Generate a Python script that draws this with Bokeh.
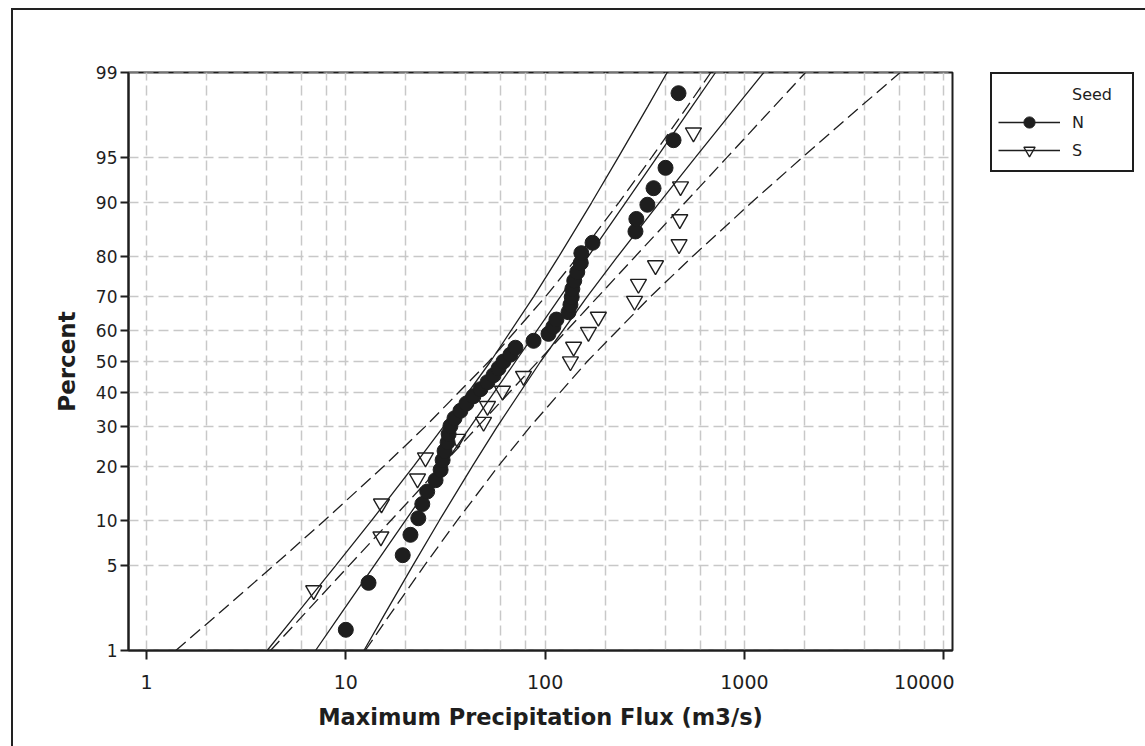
from statistics import NormalDist
from bokeh.plotting import figure
from bokeh.layouts import row
from bokeh.models import (Range1d, FixedTicker, CustomJSTickFormatter,
                          NumeralTickFormatter, Legend, LegendItem)
from bokeh.embed import file_html
from bokeh.resources import INLINE

# ---------------- data ----------------
n_pct = [1.54, 3.74, 5.95, 8.15, 10.35, 12.56, 14.76, 16.96, 19.16, 21.37,
         23.57, 25.77, 27.97, 30.18, 32.38, 34.58, 36.78, 38.99, 41.19, 43.39,
         45.59, 47.80, 50.00, 52.20, 54.41, 56.61, 58.81, 61.01, 63.22, 65.42,
         67.62, 69.82, 72.03, 74.23, 76.43, 78.63, 80.84, 83.04, 85.24, 87.44,
         89.65, 91.85, 94.05, 96.26, 98.46]
n_flux = [10.0, 13.0, 19.3, 21.1, 23.1, 24.2, 25.6, 28.2, 29.9, 30.6,
          31.3, 32.4, 32.8, 33.5, 35.1, 37.6, 40.3, 43.7, 47.4, 51.4,
          55.1, 58.4, 61.8, 67.0, 71.0, 87.5, 104, 110, 114, 131,
          134, 136, 137, 140, 145, 151, 152, 173, 284, 287,
          326, 350, 402, 441, 467]

s_pct = [3.27, 7.94, 12.62, 17.29, 21.96, 26.64, 31.31, 35.98, 40.65, 45.33,
         50.00, 54.67, 59.35, 64.02, 68.69, 73.36, 78.04, 82.71, 87.38, 92.06,
         96.73]
s_flux = [6.9, 15.0, 15.1, 22.9, 25.1, 36.4, 49.1, 51.4, 61.1, 77.9,
          134, 139, 165, 185, 281, 294, 358, 470, 474, 478, 555]

# fitted lines and 95% confidence bands, read at these percents
fit_pct = [1, 2, 5, 10, 20, 30, 50, 70, 80, 90, 95, 98, 99]
n_fit = [7.05, 9.23, 13.85, 19.89, 30.77, 42.2, 71.0, 119.6, 164.0, 253.8, 364.3, 546.4, 716.1]
n_ci_lo = [4.03, 5.53, 8.87, 13.45, 21.9, 30.9, 53.2, 87.8, 116.9, 171.5, 233.2, 327.6, 409.4]
n_ci_hi = [12.33, 15.41, 21.64, 29.42, 43.18, 57.5, 94.9, 163.0, 230.0, 375.4, 569.0, 911.6, 1252]
s_fit = [4.19, 6.02, 10.35, 16.78, 30.1, 45.9, 92.1, 184.9, 281.9, 505.8, 819.9, 1411, 2026]
s_ci_lo = [1.403, 2.209, 4.33, 7.79, 15.55, 25.02, 52.2, 100.8, 145.6, 234.9, 343.0, 518.2, 678.3]
s_ci_hi = [12.51, 16.38, 24.74, 36.14, 58.3, 84.2, 162.6, 339.1, 545.9, 1089, 1959, 3841, 6049]

y_tick_pct = [1, 5, 10, 20, 30, 40, 50, 60, 70, 80, 90, 95, 99]
x_ticks = [1, 10, 100, 1000, 10000]
x_grid = [1, 2, 4, 6, 8, 10, 20, 40, 60, 80, 100, 200, 400, 600, 800,
          1000, 2000, 4000, 6000, 8000, 10000]

series_labels = ["N", "S"]
legend_title = "Seed"
x_label = "Maximum Precipitation Flux (m3/s)"
y_label = "Percent"

# ---------------- normal-probability transform ----------------
_nd = NormalDist()
def probit(pcts):
    return [_nd.inv_cdf(p / 100.0) for p in pcts]

FONT = "DejaVu Sans"
INK = "#1e1e1e"
H = 736

p = figure(width=941, height=H, x_axis_type="log",
           x_range=Range1d(0.812, 11070),
           y_range=Range1d(probit([1])[0] - 1e-9, probit([99])[0] + 1e-9),
           output_backend="svg", toolbar_location=None,
           min_border_left=115, min_border_right=2,
           min_border_top=62, min_border_bottom=96,
           background_fill_color="white", border_fill_color="white")

p.outline_line_color = INK
p.outline_line_width = 2
p.outline_line_alpha = 1

# grids
p.xgrid.ticker = FixedTicker(ticks=x_grid)
p.ygrid.ticker = FixedTicker(ticks=probit(y_tick_pct))
for g in (p.xgrid, p.ygrid):
    g.grid_line_color = "#c8c8c8"
    g.grid_line_width = 1.5
    g.grid_line_dash = "10 5"

# axes
p.xaxis.ticker = FixedTicker(ticks=x_ticks)
p.xaxis.formatter = NumeralTickFormatter(format="0")
p.yaxis.ticker = FixedTicker(ticks=probit(y_tick_pct))
p.yaxis.formatter = CustomJSTickFormatter(code="""
    const x = Math.abs(tick) / Math.SQRT2;
    const t = 1 / (1 + 0.3275911 * x);
    const e = 1 - (((((1.061405429 * t - 1.453152027) * t) + 1.421413741) * t
               - 0.284496736) * t + 0.254829592) * t * Math.exp(-x * x);
    const erf = tick < 0 ? -e : e;
    return String(Math.round(50 * (1 + erf)));
""")
for ax in (p.xaxis, p.yaxis):
    ax.axis_line_color = INK
    ax.axis_line_width = 2
    ax.major_tick_line_color = INK
    ax.major_tick_line_width = 2
    ax.major_tick_in = 0
    ax.minor_tick_line_color = None
    ax.major_label_text_font = FONT
    ax.major_label_text_color = INK
    ax.axis_label_text_font = FONT
    ax.axis_label_text_font_style = "bold"
    ax.axis_label_text_color = INK

p.xaxis.major_tick_out = 9
p.xaxis.major_label_text_font_size = "19px"
p.xaxis.major_label_standoff = 15
p.xaxis.axis_label = x_label
p.xaxis.axis_label_text_font_size = "22.5px"
p.xaxis.axis_label_standoff = 12

p.yaxis.major_tick_out = 8
p.yaxis.major_label_text_font_size = "17px"
p.yaxis.major_label_standoff = 3
p.yaxis.axis_label = y_label
p.yaxis.axis_label_text_font_size = "23px"
p.yaxis.axis_label_standoff = 13

# fitted lines (N solid, S dashed)
for xs in (n_ci_lo, n_fit, n_ci_hi):
    p.line(xs, probit(fit_pct), line_color=INK, line_width=1.3)
for xs in (s_ci_lo, s_fit, s_ci_hi):
    p.line(xs, probit(fit_pct), line_color=INK, line_width=1.3, line_dash="13 6")

# points
n_style = dict(marker="circle", size=15, fill_color=INK, line_color=INK)
s_style = dict(marker="inverted_triangle", size=16, fill_color=None,
               line_color=INK, line_width=1.4)
p.scatter(n_flux, probit(n_pct), **n_style)
p.scatter(s_flux, probit(s_pct), **s_style)

# ---------------- legend panel (separate canvas to the right) ----------------
pl = figure(width=191, height=H, x_range=Range1d(0, 1), y_range=Range1d(0, 1),
            output_backend="svg", toolbar_location=None,
            x_axis_location=None, y_axis_location=None,
            min_border_left=36, min_border_right=4, min_border_top=62, min_border_bottom=4,
            background_fill_color="white", border_fill_color="white")
pl.outline_line_color = None
pl.xgrid.visible = False
pl.ygrid.visible = False
nan = float("nan")
leg_line = pl.line([nan], [nan], line_color=INK, line_width=1.4)
leg_n = pl.scatter([nan], [nan], **n_style)
leg_s = pl.scatter([nan], [nan], **s_style)

legend = Legend(items=[
    LegendItem(label=legend_title, renderers=[]),
    LegendItem(label=series_labels[0], renderers=[leg_line, leg_n]),
    LegendItem(label=series_labels[1], renderers=[leg_line, leg_s]),
], location="top_left")
legend.margin = 0
legend.glyph_width = 62
legend.glyph_height = 28
legend.spacing = 0
legend.padding = 6
legend.label_standoff = 12
legend.label_width = 54
legend.label_height = 20
legend.label_text_font = FONT
legend.label_text_font_size = "16px"
legend.label_text_color = INK
legend.border_line_color = INK
legend.border_line_width = 2
legend.border_line_alpha = 1
legend.background_fill_color = "white"
legend.background_fill_alpha = 1
pl.add_layout(legend)

layout = row(p, pl, spacing=0,
             styles={"margin-left": "11px", "margin-top": "8px",
                     "border-left": "2px solid #222", "border-top": "2px solid #222"})

open("out.html", "w").write(file_html(layout, INLINE))
